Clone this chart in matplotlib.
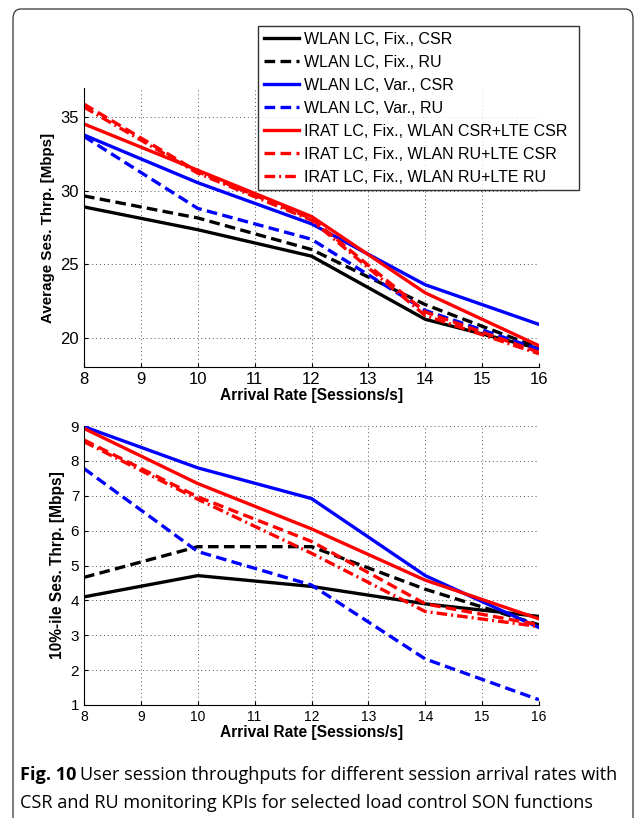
import matplotlib
matplotlib.use("Agg")
import matplotlib.pyplot as plt
from matplotlib.patches import FancyBboxPatch

plt.rcParams["font.family"] = ["Liberation Sans", "DejaVu Sans"]

arrival = [8, 10, 12, 14, 16]

labels = [
    "WLAN LC, Fix., CSR",
    "WLAN LC, Fix., RU",
    "WLAN LC, Var., CSR",
    "WLAN LC, Var., RU",
    "IRAT LC, Fix., WLAN CSR+LTE CSR",
    "IRAT LC, Fix., WLAN RU+LTE CSR",
    "IRAT LC, Fix., WLAN RU+LTE RU",
]

# average session throughput [Mbps]
avg_thr = [
    [28.9, 27.35, 25.55, 21.25, 19.25],
    [29.65, 28.15, 26.0, 22.25, 19.3],
    [33.8, 30.55, 27.75, 23.6, 20.9],
    [33.7, 28.8, 26.7, 21.85, 19.2],
    [34.55, 31.4, 28.25, 23.05, 19.45],
    [35.9, 31.3, 28.1, 21.75, 19.0],
    [35.7, 31.2, 28.0, 21.5, 18.9],
]

# 10%-ile session throughput [Mbps]
p10_thr = [
    [4.1, 4.71, 4.4, 3.9, 3.54],
    [4.66, 5.54, 5.54, 4.32, 3.3],
    [8.98, 7.8, 6.92, 4.71, 3.22],
    [7.78, 5.4, 4.44, 2.32, 1.15],
    [8.93, 7.35, 6.05, 4.58, 3.47],
    [8.6, 6.97, 5.69, 3.9, 3.3],
    [8.55, 6.9, 5.35, 3.68, 3.25],
]

colors = ["black", "black", "blue", "blue", "red", "red", "red"]
styles = ["-", (0, (3.2, 1.6)), "-", (0, (3.2, 1.6)), "-", (0, (3.2, 1.6)), (0, (3.2, 1.2, 0.6, 1.2))]

W, H = 635, 818
fig = plt.figure(figsize=(W / 100, H / 100), dpi=100)


def px_axes(x0, y0, x1, y1):
    return fig.add_axes([x0 / W, 1 - y1 / H, (x1 - x0) / W, (y1 - y0) / H])


ax1 = px_axes(84, 88, 539, 367)
ax2 = px_axes(84, 426, 539, 705)

lines = []
for i in range(len(labels)):
    (l,) = ax1.plot(arrival, avg_thr[i], color=colors[i], linestyle=styles[i], linewidth=2.4)
    lines.append(l)
    ax2.plot(arrival, p10_thr[i], color=colors[i], linestyle=styles[i], linewidth=2.4)

for ax in (ax1, ax2):
    ax.set_xlim(8, 16)
    ax.set_xticks(range(8, 17))
    ax.grid(True, linestyle=(0, (1, 3)), color="#555555", linewidth=0.7)
    ax.spines["top"].set_visible(False)
    ax.spines["right"].set_visible(False)
    ax.tick_params(direction="in", labelsize=10, length=3, width=0.8)
    ax.set_xlabel("Arrival Rate [Sessions/s]", fontsize=11.2, fontweight="bold", labelpad=1)

ax1.set_ylim(18, 37)
ax1.set_yticks([20, 25, 30, 35])
ax1.tick_params(axis="both", labelsize=12)
ax1.set_ylabel("Average Ses. Thrp. [Mbps]", fontsize=10.9, fontweight="bold")

ax2.set_ylim(1, 9)
ax2.set_yticks(range(1, 10))
ax2.tick_params(axis="y", labelsize=11)
ax2.set_ylabel("10%-ile Ses. Thrp. [Mbps]", fontsize=11.2, fontweight="bold")

leg = fig.legend(
    lines, labels,
    loc="upper left",
    bbox_to_anchor=(258 / W, 1 - 190 / H, (579 - 258) / W, (190 - 26) / H),
    mode="expand",
    fontsize=11.5,
    frameon=True, fancybox=False, edgecolor="black",
    handlelength=2.2, handletextpad=0.35, labelspacing=0.5,
    borderpad=0.35, borderaxespad=0,
)
leg.get_frame().set_linewidth(1.0)

frame = FancyBboxPatch(
    (13 / W, -0.05), (633 - 13) / W, 1 - 9 / H + 0.05,
    boxstyle="round,pad=0,rounding_size=0.012",
    transform=fig.transFigure, fill=False, edgecolor="#333333", linewidth=0.9,
)
fig.patches.append(frame)

cap_font = ["Open Sans", "DejaVu Sans"]
cap_size = 13.1
t = fig.text(20 / W, 1 - 775 / H, "Fig. 10", fontsize=cap_size, fontweight="bold",
             family=cap_font, va="center")
fig.canvas.draw()
bb = t.get_window_extent(fig.canvas.get_renderer())
fig.text(bb.x1 / W + 4 / W, 1 - 775 / H,
         "User session throughputs for different session arrival rates with",
         fontsize=cap_size, family=cap_font, va="center")
fig.text(20 / W, 1 - 803 / H,
         "CSR and RU monitoring KPIs for selected load control SON functions",
         fontsize=cap_size, family=cap_font, va="center")

fig.savefig("out.png", dpi=100)
